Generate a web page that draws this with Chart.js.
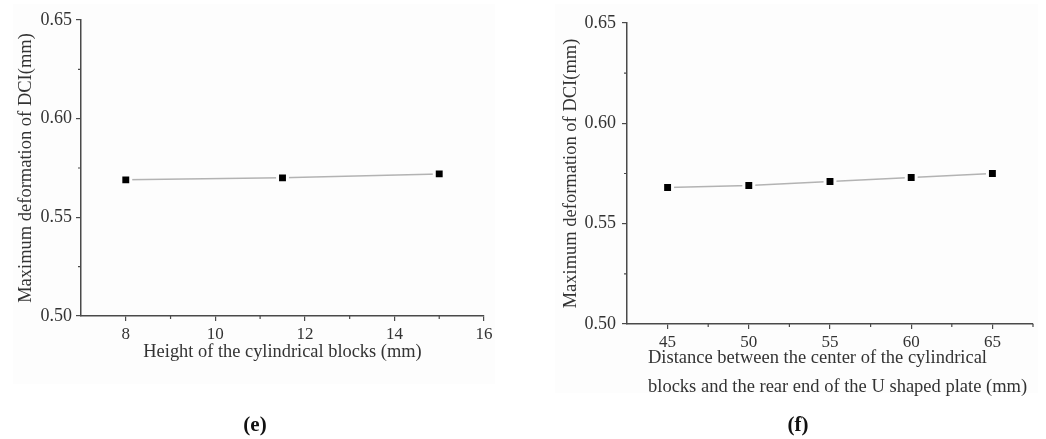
<!DOCTYPE html>
<html>
<head>
<meta charset="utf-8">
<script src="https://cdn.jsdelivr.net/npm/chart.js@4.4.0/dist/chart.umd.min.js"></script>
<style>
    html, body { margin: 0; padding: 0; background: #fff; }
    body { width: 1046px; height: 439px; position: relative; overflow: hidden; }
    .panel-bg { position: absolute; background: #fdfdfd; }
    .box { position: absolute; top: 0; height: 439px; }
    .tag { position: absolute; font: bold 21px "Liberation Serif", serif; color: #111; transform: translate(-50%, -50%); }
</style>
</head>
<body>
<div class="panel-bg" style="left:13px;top:4px;width:482px;height:380px"></div>
<div class="panel-bg" style="left:555px;top:4px;width:483px;height:389px"></div>
<div class="box" style="left:0;width:520px"><canvas id="chartE" width="520" height="439"></canvas></div>
<div class="box" style="left:520px;width:526px"><canvas id="chartF" width="526" height="439"></canvas></div>
<div class="tag" style="left:255px;top:424px">(e)</div>
<div class="tag" style="left:798px;top:424px">(f)</div>
<script>
// Data
const heightValues = [8, 11.5, 15];
const heightDeformation = [0.569, 0.570, 0.572];
const distanceValues = [45, 50, 55, 60, 65];
const distanceDeformation = [0.568, 0.569, 0.571, 0.573, 0.575];

// Tick labels
const yTicks = [0.50, 0.55, 0.60, 0.65];
const yMinorTicks = [0.525, 0.575, 0.625];
const heightTicks = [8, 10, 12, 14, 16];
const heightMinorTicks = [9, 11, 13, 15];
const distanceTicks = [45, 50, 55, 60, 65];
const distanceMinorTicks = [47.5, 52.5, 57.5, 62.5, 67.5];

const yTitle = 'Maximum deformation of DCI(mm)';
const heightTitle = 'Height of the cylindrical blocks (mm)';
const distanceTitle = ['Distance between the center of the cylindrical', 'blocks and the rear end of the U shaped plate (mm)'];

const FONT = '"Liberation Serif", "Times New Roman", serif';
const TEXT = '#333';
const AXIS = '#4a4a4a';

// small outward ticks between the labelled ones
const minorTicks = {
    id: 'minorTicks',
    afterDraw(chart, args, opts) {
        const ctx = chart.ctx;
        const xs = chart.scales.x;
        const ys = chart.scales.y;
        ctx.save();
        ctx.strokeStyle = AXIS;
        ctx.lineWidth = 1.2;
        ctx.beginPath();
        (opts.x || []).forEach(v => {
            const px = xs.getPixelForValue(v);
            ctx.moveTo(px, xs.top);
            ctx.lineTo(px, xs.top + 3);
        });
        (opts.y || []).forEach(v => {
            const py = ys.getPixelForValue(v);
            ctx.moveTo(ys.right, py);
            ctx.lineTo(ys.right - 3, py);
        });
        ctx.stroke();
        ctx.restore();
    }
};

// left-aligned, two-line x title used in panel (f)
const indentTitle = {
    id: 'indentTitle',
    afterDraw(chart, args, opts) {
        if (!opts.lines) return;
        const ctx = chart.ctx;
        const area = chart.chartArea;
        ctx.save();
        ctx.fillStyle = TEXT;
        ctx.font = opts.size + 'px ' + FONT;
        ctx.textAlign = 'left';
        ctx.textBaseline = 'middle';
        opts.lines.forEach((line, i) => {
            ctx.fillText(line, area.left + opts.indent, area.bottom + opts.first + i * opts.spacing);
        });
        ctx.restore();
    }
};

function buildChart(id, xs, ys, cfg) {
    const points = xs.map((x, i) => ({ x: x, y: ys[i] }));
    return new Chart(document.getElementById(id), {
        type: 'scatter',
        data: {
            datasets: [{
                data: points,
                showLine: true,
                borderColor: '#b3b3b3',
                borderWidth: 1.5,
                pointStyle: 'rect',
                pointRadius: 7,
                pointBackgroundColor: '#000',
                pointBorderColor: '#fdfdfd',
                pointBorderWidth: 3
            }]
        },
        options: {
            responsive: false,
            animation: false,
            layout: { padding: cfg.padding },
            plugins: {
                legend: { display: false },
                tooltip: { enabled: false },
                minorTicks: { x: cfg.minorX, y: yMinorTicks },
                indentTitle: cfg.indentTitle || {}
            },
            scales: {
                x: {
                    type: 'linear',
                    min: cfg.xMin,
                    max: cfg.xMax,
                    afterBuildTicks: s => { s.ticks = cfg.xTicks.map(v => ({ value: v })); },
                    afterFit: s => { s.height = cfg.xHeight; },
                    grid: { drawOnChartArea: false, drawTicks: true, tickLength: 5, color: AXIS, lineWidth: 1.2 },
                    border: { display: true, color: AXIS, width: 1.5 },
                    ticks: {
                        color: TEXT, padding: 3,
                        font: { family: FONT, size: 17 },
                        callback: v => String(v)
                    },
                    title: cfg.xTitle ? {
                        display: true, text: cfg.xTitle, color: TEXT,
                        font: { family: FONT, size: 18.4, lineHeight: 1.2 },
                        padding: { top: 0, bottom: cfg.xTitlePad }
                    } : { display: false }
                },
                y: {
                    type: 'linear',
                    min: 0.5,
                    max: 0.65,
                    afterBuildTicks: s => { s.ticks = yTicks.map(v => ({ value: v })); },
                    afterFit: s => { s.width = cfg.yWidth; },
                    grid: { drawOnChartArea: false, drawTicks: true, tickLength: 5, color: AXIS, lineWidth: 1.2 },
                    border: { display: true, color: AXIS, width: 1.5 },
                    ticks: {
                        color: TEXT, padding: cfg.yTickPad,
                        font: { family: FONT, size: 18 },
                        callback: v => v.toFixed(2)
                    },
                    title: {
                        display: true, text: yTitle, color: TEXT,
                        font: { family: FONT, size: 18.5, lineHeight: 1.2 },
                        padding: { top: cfg.yTitlePad, bottom: 0 }
                    }
                }
            }
        },
        plugins: [minorTicks, indentTitle]
    });
}

buildChart('chartE', heightValues, heightDeformation, {
    padding: { left: 0, top: 20, right: 36, bottom: 0 },
    xMin: 7, xMax: 16,
    xTicks: heightTicks,
    minorX: heightMinorTicks,
    xHeight: 123,
    yWidth: 81,
    yTickPad: 4,
    yTitlePad: 15,
    xTitle: heightTitle,
    xTitlePad: 76
});

buildChart('chartF', distanceValues, distanceDeformation, {
    padding: { left: 0, top: 23, right: 13, bottom: 0 },
    xMin: 42.5, xMax: 67.5,
    xTicks: distanceTicks,
    minorX: distanceMinorTicks,
    xHeight: 115,
    yWidth: 107,
    yTickPad: 6,
    yTitlePad: 40,
    indentTitle: { lines: distanceTitle, indent: 21, first: 34, spacing: 29, size: 18.5 }
});
</script>
</body>
</html>
